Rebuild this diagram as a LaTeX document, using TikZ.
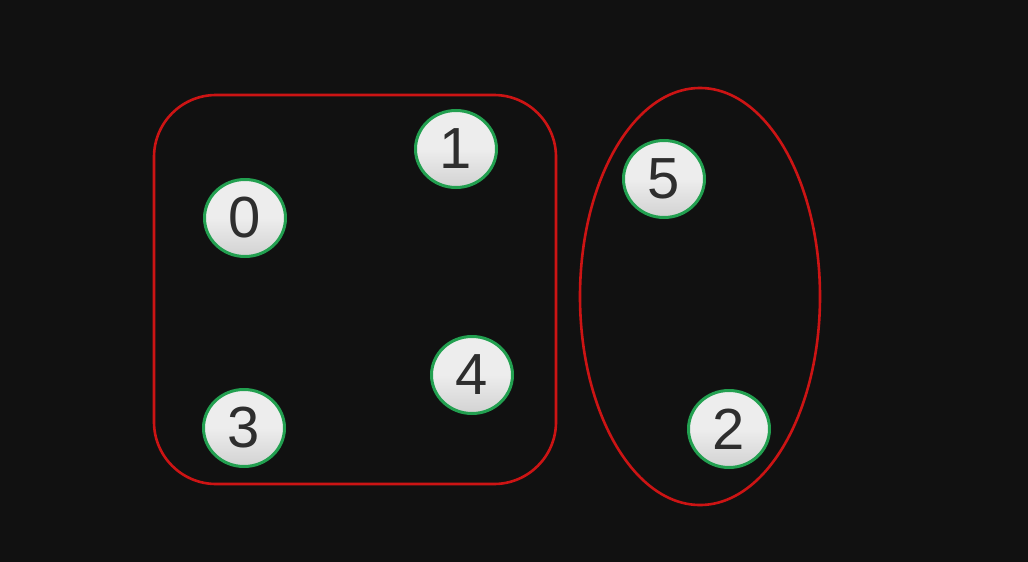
\documentclass[tikz,border=0pt]{standalone}
\usepackage{fontspec}
\setmainfont{Liberation Sans}
\usetikzlibrary{shapes.geometric}
\definecolor{bg}{HTML}{111111}
\definecolor{grp}{HTML}{CC1414}
\definecolor{nodeedge}{HTML}{22A050}
\definecolor{nodefill}{HTML}{EDEDED}
\definecolor{nodelow}{HTML}{D2D2D2}
\definecolor{digit}{HTML}{2E2E2E}
\tikzset{
  vert/.style={ellipse, draw=nodeedge, line width=3pt, top color=nodefill, bottom color=nodelow, middle color=nodefill,
    minimum width=81pt, minimum height=77pt, inner sep=0pt, text=digit, font=\fontsize{58}{58}\selectfont},
  group/.style={draw=grp, line width=2.6pt}
}
\begin{document}
\begin{tikzpicture}[x=1pt,y=-1pt]
\fill[bg] (0,0) rectangle (1028,562);
\useasboundingbox (0,0) rectangle (1028,562);
\draw[group, rounded corners=62pt] (154,95) rectangle (556,484);
\node[group, ellipse, minimum width=240pt, minimum height=417pt, inner sep=0pt] (g2) at (700,296.5) {};
\node[vert] (n0) at (245,218) {0};
\node[vert] (n1) at (456,149) {1};
\node[vert] (n5) at (664,179) {5};
\node[vert] (n3) at (244,428) {3};
\node[vert] (n4) at (472,375) {4};
\node[vert] (n2) at (729,429) {2};
\end{tikzpicture}
\end{document}
